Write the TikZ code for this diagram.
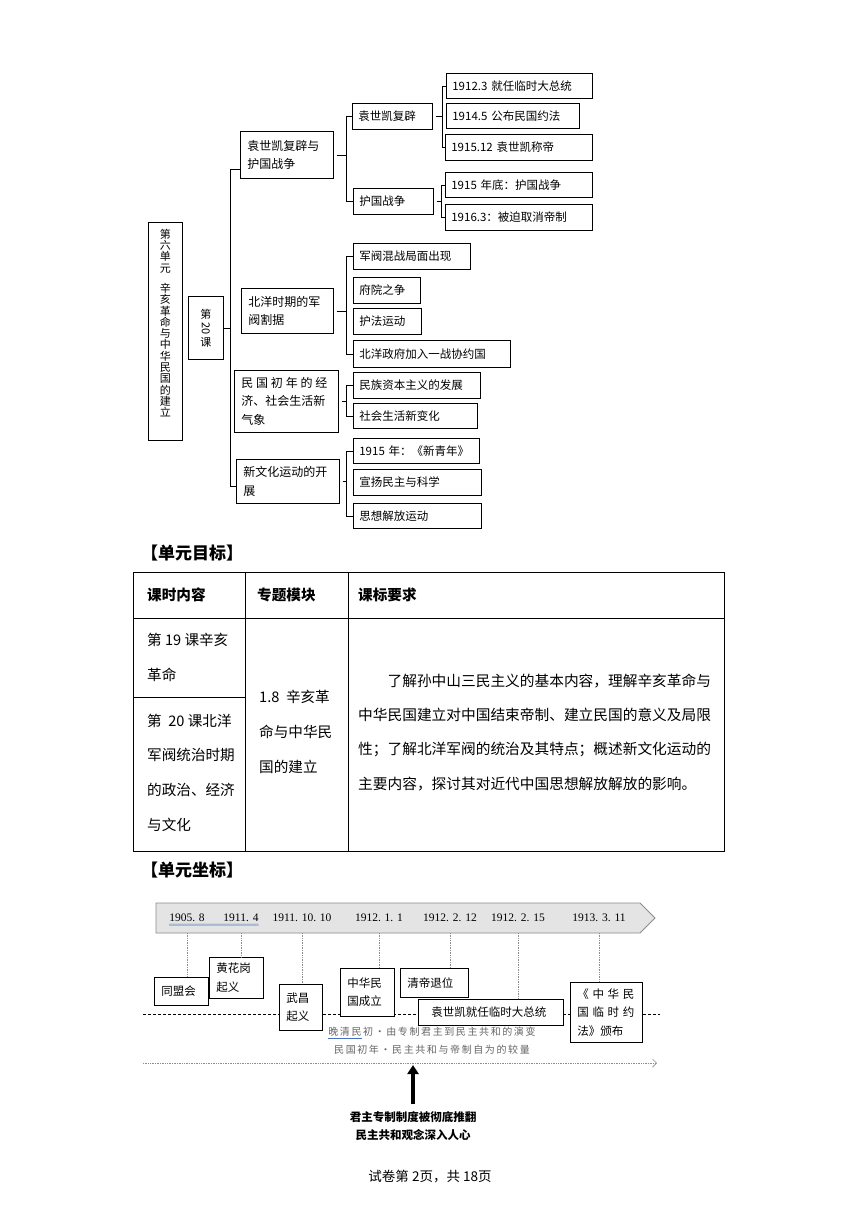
\documentclass[tikz,border=0pt]{standalone}
\usepackage{fontspec}
\setmainfont{Noto Sans CJK SC}
\newfontfamily\datefont{Liberation Serif}
\usepackage{graphicx}
\usepackage{tikz}
\usetikzlibrary{arrows.meta}
\usepackage{xcolor}
\definecolor{bannerfill}{HTML}{E4E4E4}
\definecolor{bannerline}{HTML}{8C8C8C}
\definecolor{notegray}{HTML}{666666}
\definecolor{markblue}{HTML}{4A6FC0}

\begin{document}
\begin{tikzpicture}[x=1pt,y=-1pt,
  box/.style={draw,line width=0.7pt,anchor=north west,inner xsep=6pt,inner ysep=0pt,align=left,font=\fontsize{11.5}{17}\selectfont},
  tie/.style={line width=0.6pt},
  evt/.style={draw,fill=white,line width=0.7pt,anchor=north west,inner xsep=8pt,inner ysep=0pt,align=left,font=\fontsize{11.5}{18.5}\selectfont},
  cell/.style={anchor=base west,inner sep=0pt,align=left,font=\fontsize{14.6}{34.6}\selectfont},
  date/.style={inner sep=0pt,font=\datefont\fontsize{11.5}{13}\selectfont},
  head/.style={anchor=west,inner sep=0pt,font=\fontsize{17}{20}\selectfont\bfseries},
  note/.style={inner sep=0pt,text=notegray,font=\fontsize{10}{12}\selectfont\addfontfeatures{LetterSpace=16}},
  dotline/.style={bannerline,densely dotted,line width=0.7pt}]
  \fill[white] (0,0) rectangle (860,1216);
  \useasboundingbox (0,0) rectangle (860,1216);

  \node[box,minimum height=218,text width=21,inner xsep=6.5pt,align=center,font=\fontsize{11}{11.3}\selectfont] (unit) at (148,222)
    {第\\六\\单\\元\\[9pt]辛\\亥\\革\\命\\与\\中\\华\\民\\国\\的\\建\\立\\[5.7pt]\mbox{}};
  \node[box,minimum height=63,text width=21,inner xsep=7pt,align=center,font=\fontsize{11}{14}\selectfont] (lesson) at (188,296)
    {第\\\rotatebox[origin=c]{-90}{20}\\课};

  \foreach \n/\x/\y/\w/\h/\t [evaluate=\w as \tw using \w-14] in
    {sec1/240/131/93/47/{袁世凯复辟与\\护国战争},
     sec2/241/288/92/45/{北洋时期的军\\阀割据},
     sec3/234/370/104/62/{\makebox[86pt]{民\hfill 国\hfill 初\hfill 年\hfill 的\hfill 经}\\济、社会生活新\\气象},
     sec4/236/459/103/44/{新文化运动的开\\展}}
    \node[box,inner xsep=7pt,text width=\tw pt,minimum height=\h,font=\fontsize{12}{18.5}\selectfont] (\n) at (\x,\y) {\t};

  \foreach \n/\x/\y/\w/\h/\t [evaluate=\w as \tw using \w-12] in
    {s1a/352/103/80/26/袁世凯复辟, s1b/353/188/80/26/护国战争,
     l1/446/73/146/25/1912.3 就任临时大总统, l2/446/103/133/25/1914.5 公布民国约法,
     l3/445/134/147/26/1915.12 袁世凯称帝, l4/445/172/147/25/1915 年底：护国战争,
     l5/445/204/147/26/1916.3：被迫取消帝制,
     b1/353/243/117/26/军阀混战局面出现, b2/353/277/67/26/府院之争,
     b3/353/308/68/26/护法运动, b4/353/340/157/27/北洋政府加入一战协约国,
     c1/353/372/127/26/民族资本主义的发展, c2/353/403/124/25/社会生活新变化,
     d1/353/438/126/25/1915 年：《新青年》, d2/353/469/128/26/宣扬民主与科学,
     d3/353/503/128/25/思想解放运动}
    \node[box,text width=\tw pt,minimum height=\h] (\n) at (\x,\y) {\t};

  \draw[tie] ([yshift=-14pt]sec1.west) -- ++(-10,0) coordinate (k0) |- ([yshift=-5pt]sec4.west);
  \draw[tie] (lesson.east) -- (lesson.east -| k0);
  \foreach \p/\a/\b/\d in {sec1/s1a/s1b/6,s1a/l1/l3/4,s1b/l4/l5/4,sec2/b1/b4/7,sec3/c1/c2/7,sec4/d1/d3/7}{
    \draw[tie] (\a.west) -- ++(-\d,0) coordinate (k) |- (\b.west);
    \draw[tie,shorten <=3pt] (\p.east) -- (\p.east -| k);
  }

  \node[head] (goal) at (141,553) {【单元目标】};
  \draw[line width=0.9pt] (133,572) rectangle (724,851);
  \draw[line width=0.7pt] (133,618) -- (724,618) (245,572) -- (245,851)
    (348,572) -- (348,851) (133,697) -- (245,697);
  \foreach \n/\x/\t in {h1/147/课时内容,h2/257/专题模块,h3/358/课标要求}
    \node[cell,font=\fontsize{14.6}{20}\selectfont\bfseries] (\n) at (\x,600.5) {\t};
  \node[cell] (r1) at (147,680) {第 19 课辛亥\\革命};
  \node[cell] (r2) at (147,830) {第\ \ 20 课北洋\\军阀统治时期\\的政治、经济\\与文化};
  \node[cell] (mod) at (259,772) {1.8\ \ 辛亥革\\命与中华民\\国的建立};
  \node[cell,font=\fontsize{14.7}{34.3}\selectfont] (req) at (358,789)
    {\hspace*{2em}了解孙中山三民主义的基本内容，理解辛亥革命与\\中华民国建立对中国结束帝制、建立民国的意义及局限\\性；了解北洋军阀的统治及其特点；概述新文化运动的\\主要内容，探讨其对近代中国思想解放解放的影响。};

  \node[head] (coord) at (141,870) {【单元坐标】};
  \draw[fill=bannerfill,draw=bannerline,line width=0.8pt]
    (156,903) -- (640,903) -- (655,918) -- (640,933) -- (156,933) -- cycle;
  \coordinate (bot) at (0,933);
  \foreach \n/\x/\t in {t1/187/1905. 8,t2/241/1911. 4,t3/302/1911. 10. 10,t4/379/1912. 1. 1,
                        t5/450/1912. 2. 12,t6/518/1912. 2. 15,t7/599/1913. 3. 11}
    \node[date] (\n) at (\x,918) {\t};
  \draw[markblue,line width=0.4pt] ([yshift=-2pt]t1.south west) -- ([yshift=-2pt]t2.south east);
  \draw[markblue,line width=0.4pt] ([yshift=-3.6pt]t1.south west) -- ([yshift=-3.6pt]t2.south east);

  \draw[line width=0.6pt,dash pattern=on 3pt off 2pt] (143,1014) -- (660,1014);
  \foreach \n/\x/\y/\w/\h/\t [evaluate=\w as \tw using \w-14] in
    {e1/154/977/54/28/同盟会, e2/209/957/54/41/{黄花岗\\起义}, e3/279/984/43/46/{武昌\\起义},
     e4/340/968/54/48/{中华民\\国成立}, e5/400/968/68/29/清帝退位,
     e6/418/999/145/26/\hspace*{6pt}袁世凯就任临时大总统,
     e7/570/982/72/60/{\makebox[57pt]{《\hfill 中\hfill 华\hfill 民}\\\makebox[57pt]{国\hfill 临\hfill 时\hfill 约}\\法》颁布}}
    \node[evt,inner xsep=7pt,text width=\tw pt,minimum height=\h] (\n) at (\x,\y) {\t};
  \foreach \t/\e in {t1/e1,t2/e2,t3/e3,t4/e4,t5/e5,t6/e6,t7/e7}
    \draw[dotline] (\t |- bot) -- (\t |- \e.north);

  \node[note] (era1) at (432,1032) {晚清民初•由专制君主到民主共和的演变};
  \node[note] (era2) at (432,1050) {民国初年•民主共和与帝制自为的较量};
  \draw[markblue,line width=0.5pt] ([yshift=-1.5pt]era1.south west) -- ++(34,0);

  \coordinate (ax0) at (143,1063);
  \coordinate (ax1) at (657,1063);
  \draw[dotline,-{Straight Barb[length=4pt,width=8pt]}] (ax0) -- (ax1);

  \node[inner sep=0pt,align=center,font=\fontsize{11.5}{18}\selectfont\bfseries] (res) at (413,1126)
    {君主专制制度被彻底推翻\\民主共和观念深入人心};
  \draw[line width=3.5pt,-{Triangle[length=9pt,width=11pt]},shorten <=7pt,shorten >=2pt] (res.north) -- (res.north |- ax0);

  \node[inner sep=0pt,font=\fontsize{13.5}{16}\selectfont] (foot) at (430,1177) {试卷第 2页，共 18页};
\end{tikzpicture}
\end{document}
